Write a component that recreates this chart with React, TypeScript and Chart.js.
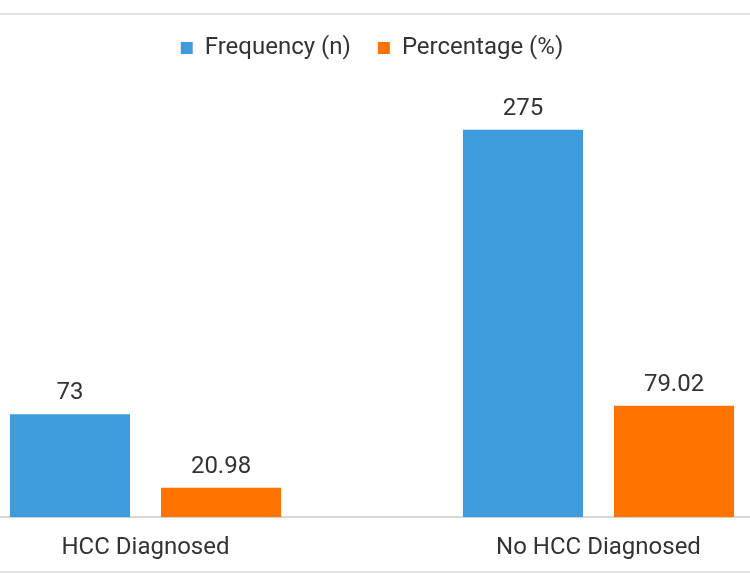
import React, { useEffect, useRef } from "react";
import { Chart, registerables } from "chart.js";

Chart.register(...registerables);

const categories = ["HCC Diagnosed", "No HCC Diagnosed"];
const frequencyValues = [73, 275];
const percentageValues = [20.98, 79.02];
const seriesNames = ["Frequency (n)", "Percentage (%)"];
const valueLabels = [["73", "275"], ["20.98", "79.02"]];

const FONT = "Roboto, 'Noto Sans', sans-serif";

const frameLines = {
  id: "frameLines",
  beforeDraw(chart: any) {
    const { ctx, width } = chart;
    ctx.save();
    ctx.strokeStyle = "#e3e3e3";
    ctx.lineWidth = 2;
    ctx.beginPath();
    ctx.moveTo(0, 14);
    ctx.lineTo(width, 14);
    ctx.moveTo(0, 572);
    ctx.lineTo(width, 572);
    ctx.stroke();
    ctx.restore();
  },
};

const valueLabelPlugin = {
  id: "valueLabels",
  afterDatasetsDraw(chart: any) {
    const { ctx } = chart;
    ctx.save();
    ctx.font = `24px ${FONT}`;
    ctx.fillStyle = "#333333";
    ctx.textAlign = "center";
    ctx.textBaseline = "alphabetic";
    chart.data.datasets.forEach((ds: any, di: number) => {
      const meta = chart.getDatasetMeta(di);
      meta.data.forEach((bar: any, i: number) => {
        ctx.fillText(valueLabels[di][i], bar.x, bar.y - 15);
      });
    });
    ctx.restore();
  },
};

export default function App() {
  const ref = useRef<HTMLCanvasElement | null>(null);
  useEffect(() => {
    if (!ref.current) return;
    const chart = new Chart(ref.current, {
      type: "bar",
      data: {
        labels: categories,
        datasets: [
          {
            label: seriesNames[0],
            data: frequencyValues,
            backgroundColor: "#3e9bdc",
            barPercentage: 0.795,
            categoryPercentage: 0.667,
          },
          {
            label: seriesNames[1],
            data: percentageValues,
            backgroundColor: "#ff7400",
            barPercentage: 0.795,
            categoryPercentage: 0.667,
          },
        ],
      },
      options: {
        animation: false,
        responsive: false,
        maintainAspectRatio: false,
        layout: { padding: { top: 9, bottom: 8, left: 0, right: 0 } },
        plugins: {
          legend: {
            display: true,
            position: "top",
            labels: {
              boxWidth: 12,
              boxHeight: 12,
              padding: 27,
              color: "#333333",
              font: { size: 24, family: FONT },
            },
          },
          tooltip: { enabled: false },
        },
        scales: {
          x: {
            grid: { display: false },
            border: { display: true, color: "#d6d6d6", width: 2 },
            ticks: {
              color: "#333333",
              font: { size: 24, family: FONT },
              padding: 8,
            },
          },
          xTop: {
            type: "category",
            position: "top",
            labels: categories,
            grid: { display: false, drawTicks: false },
            border: { display: false },
            ticks: { display: false },
            afterFit(scale: any) {
              scale.height = 24.5;
            },
          },
          y: {
            display: false,
            min: 0,
            max: 300,
          },
        },
      },
      plugins: [frameLines, valueLabelPlugin],
    });
    return () => chart.destroy();
  }, []);
  return (
    <div
      style={{
        position: "fixed",
        left: 0,
        top: 0,
        width: 750,
        height: 578,
        overflow: "hidden",
        background: "#ffffff",
      }}
    >
      <canvas
        ref={ref}
        width={906}
        height={578}
        style={{ position: "absolute", left: -81, top: 0, width: 906, height: 578 }}
      />
    </div>
  );
}
